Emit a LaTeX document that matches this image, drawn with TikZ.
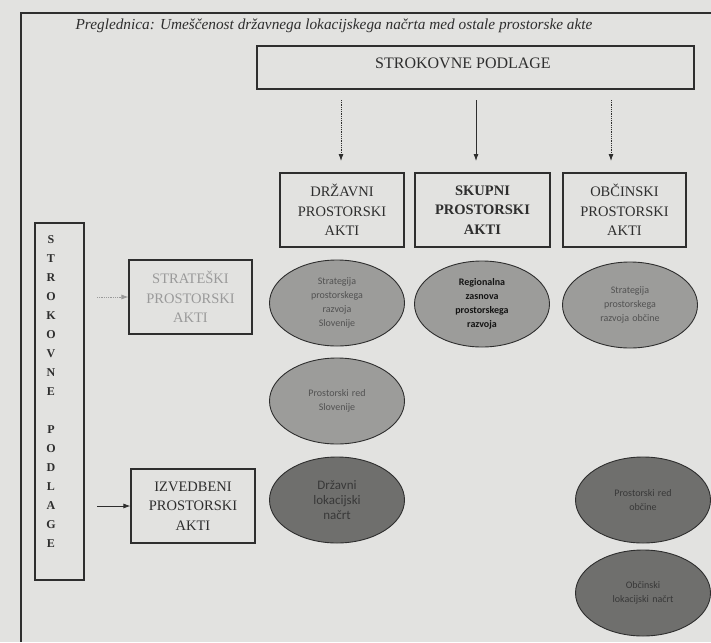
\documentclass[tikz,border=0pt]{standalone}
\usepackage{fontspec}
\setmainfont{Liberation Serif}
\newfontfamily\ellfont{Carlito}
\usetikzlibrary{shapes.geometric,arrows.meta,positioning}
\definecolor{paper}{HTML}{E2E2E0}
\definecolor{ink}{HTML}{2E2E2E}
\definecolor{fadeink}{HTML}{9A9A9A}
\definecolor{ellA}{HTML}{9C9C9A}
\definecolor{ellB}{HTML}{6F6F6D}
\tikzset{
  x=1pt, y=-1pt,
  frameline/.style={draw=ink, line width=1.1pt},
  actbox/.style={draw=ink, line width=1.1pt, rectangle, inner sep=0pt, align=center,
    font=\fontsize{14.5}{19.3}\selectfont, text=ink},
  ellnode/.style={ellipse, draw=ink, line width=0.9pt, minimum width=135pt, minimum height=86pt,
    inner sep=0pt, align=center, text width=80pt, font=\ellfont\fontsize{10}{14}\selectfont},
  lightell/.style={ellnode, fill=ellA, text=black!68},
  darkell/.style={ellnode, fill=ellB, text=black!78},
  arr/.style={draw=ink, line width=0.8pt, -{Latex[length=7pt,width=5pt]}},
  dotarr/.style={arr, densely dotted},
}
\begin{document}
\begin{tikzpicture}
\fill[paper] (0,0) rectangle (711,642);
\useasboundingbox (0,0) rectangle (711,642);
% outer frame (top and left sides only)
\coordinate (ftl) at (21,13);
\coordinate (ftr) at (711,13);
\coordinate (fbl) at (21,642);
\draw[frameline] (ftr) -- (ftl) -- (fbl);
% title
\node[text=ink, font=\itshape\fontsize{15.3}{18}\selectfont] (title) at (334,26)
  {Preglednica: Umeščenost državnega lokacijskega načrta med ostale prostorske akte};
% top box
\node[actbox, minimum width=437pt, minimum height=43pt] (sp) at (475.5,67.5) {};
\node[text=ink, font=\fontsize{16}{18}\selectfont] (sptext) at (463,63) {STROKOVNE PODLAGE};
% column boxes
\node[actbox, minimum width=124pt, minimum height=74pt] (dr) at (342,210) {DRŽAVNI\\PROSTORSKI\\AKTI};
\node[actbox, minimum width=135pt, minimum height=74pt, font=\bfseries\fontsize{14.5}{19.3}\selectfont] (sk) at (482.5,210) {SKUPNI\\PROSTORSKI\\AKTI};
\node[actbox, minimum width=123pt, minimum height=74pt] (ob) at (624.5,210) {OBČINSKI\\PROSTORSKI\\AKTI};
% arrows from top box
\coordinate (a1s) at (341,100); \coordinate (a1e) at (341,161);
\coordinate (a2s) at (476,100); \coordinate (a2e) at (476,161);
\coordinate (a3s) at (611,100); \coordinate (a3e) at (611,161);
\draw[dotarr] (a1s) -- (a1e);
\draw[arr] (a2s) -- (a2e);
\draw[dotarr] (a3s) -- (a3e);
% ellipses
\node[lightell] (e1) at (337,303) {Strategija\\prostorskega\\razvoja\\Slovenije};
\node[lightell, text=black!92, font=\ellfont\bfseries\fontsize{10}{14}\selectfont] (e2) at (482,304) {Regionalna\\zasnova\\prostorskega\\razvoja};
\node[lightell] (e3) at (630,305) {Strategija\\prostorskega\\razvoja občine};
\node[lightell] (e4) at (337,401) {Prostorski red\\Slovenije};
\node[darkell, font=\ellfont\fontsize{13}{15}\selectfont] (e5) at (337,500) {Državni\\lokacijski\\načrt};
\node[darkell] (e6) at (643,500) {Prostorski red\\občine};
\node[darkell] (e7) at (643,593) {Občinski\\lokacijski načrt\\[6pt]};
% left vertical box
\node[draw=ink, line width=1.1pt, minimum width=49pt, minimum height=357pt, inner sep=0pt] (vb) at (59.5,401.5) {};
\node[text=ink, align=center, font=\fontsize{12}{19}\selectfont\bfseries, anchor=north] (vt) at (51,232)
  {S\\T\\R\\O\\K\\O\\V\\N\\E\\[19pt]P\\O\\D\\L\\A\\G\\E};
% left boxes
\node[actbox, minimum width=123pt, minimum height=74pt, text=fadeink] (st) at (190.5,297) {STRATEŠKI\\PROSTORSKI\\AKTI};
\node[actbox, minimum width=124pt, minimum height=74pt] (iz) at (193,506) {IZVEDBENI\\PROSTORSKI\\AKTI};
\coordinate (l1s) at (97,297);
\coordinate (l2s) at (97,506);
\draw[dotarr, draw=fadeink] (l1s) -- (st.west) ;
\draw[arr] (l2s) -- (iz.west);
\end{tikzpicture}
\end{document}
